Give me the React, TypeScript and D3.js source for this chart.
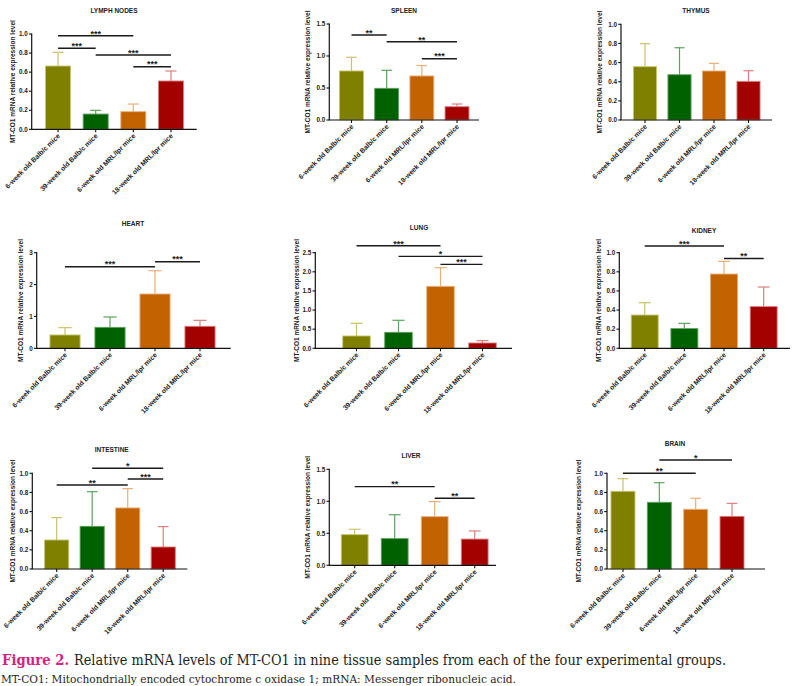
import React from "react";
import * as d3 from "d3";

// ---------- DATA ----------
const groups = [
  "6-week old Balb/c mice",
  "39-week old Balb/c mice",
  "6-week old MRL/lpr mice",
  "18-week old MRL/lpr mice",
];
const tissues = ["LYMPH NODES", "SPLEEN", "THYMUS", "HEART", "LUNG", "KIDNEY", "INTESTINE", "LIVER", "BRAIN"];
const yLabel = "MT-CO1 mRNA relative expression level";

const lymphMean = [0.664, 0.16, 0.185, 0.507];
const lymphSD = [0.144, 0.039, 0.08, 0.105];
const spleenMean = [0.766, 0.495, 0.688, 0.208];
const spleenSD = [0.214, 0.281, 0.162, 0.042];
const thymusMean = [0.557, 0.473, 0.512, 0.404];
const thymusSD = [0.24, 0.282, 0.08, 0.111];
const heartMean = [0.418, 0.658, 1.704, 0.69];
const heartSD = [0.23, 0.325, 0.731, 0.188];
const lungMean = [0.322, 0.418, 1.62, 0.139];
const lungSD = [0.331, 0.314, 0.488, 0.061];
const kidneyMean = [0.348, 0.206, 0.777, 0.436];
const kidneySD = [0.129, 0.055, 0.132, 0.205];
const intestineMean = [0.303, 0.446, 0.638, 0.23];
const intestineSD = [0.234, 0.362, 0.202, 0.213];
const liverMean = [0.479, 0.417, 0.76, 0.41];
const liverSD = [0.084, 0.373, 0.235, 0.126];
const brainMean = [0.812, 0.697, 0.624, 0.55];
const brainSD = [0.132, 0.205, 0.115, 0.136];

const yMaxes = [1.0, 1.5, 1.0, 3, 2.5, 1.0, 1.0, 1.5, 1.0];
const yTickSteps = [0.2, 0.5, 0.2, 1, 0.5, 0.2, 0.2, 0.5, 0.2];

// significance brackets: [from group, to group, label, level (data units)]
const lymphSig: [number, number, string, number][] = [
  [0, 2, "***", 0.982], [0, 1, "***", 0.85], [1, 3, "***", 0.78], [2, 3, "***", 0.657],
];
const spleenSig: [number, number, string, number][] = [
  [0, 1, "**", 1.328], [1, 3, "**", 1.223], [2, 3, "***", 0.958],
];
const thymusSig: [number, number, string, number][] = [];
const heartSig: [number, number, string, number][] = [
  [0, 2, "***", 2.561], [2, 3, "***", 2.718],
];
const lungSig: [number, number, string, number][] = [
  [0, 2, "***", 2.683], [1, 3, "*", 2.404], [2, 3, "***", 2.195],
];
const kidneySig: [number, number, string, number][] = [
  [0, 2, "***", 1.07], [2, 3, "**", 0.94],
];
const intestineSig: [number, number, string, number][] = [
  [1, 3, "*", 1.052], [2, 3, "***", 0.94], [0, 2, "**", 0.878],
];
const liverSig: [number, number, string, number][] = [
  [0, 2, "**", 1.229], [2, 3, "**", 1.047],
];
const brainSig: [number, number, string, number][] = [
  [0, 2, "**", 1.0], [1, 3, "*", 1.139],
];

const means = [lymphMean, spleenMean, thymusMean, heartMean, lungMean, kidneyMean, intestineMean, liverMean, brainMean];
const sds = [lymphSD, spleenSD, thymusSD, heartSD, lungSD, kidneySD, intestineSD, liverSD, brainSD];
const sigs = [lymphSig, spleenSig, thymusSig, heartSig, lungSig, kidneySig, intestineSig, liverSig, brainSig];

const captionTitle = "Figure 2.";
const captionText = "Relative mRNA levels of MT-CO1 in nine tissue samples from each of the four experimental groups.";
const captionNote = "MT-CO1: Mitochondrially encoded cytochrome c oxidase 1; mRNA: Messenger ribonucleic acid.";

// ---------- STYLE / LAYOUT ----------
const barColors = ["#808000", "#006100", "#c26200", "#a30000"];
const errColors = ["#c5c46e", "#61a061", "#e9b07a", "#d88080"];
const FONT = "'Liberation Sans', Arial, Helvetica, sans-serif";
const SERIF = "'DejaVu Serif', serif";
const CAP_SX = 0.78; // horizontal condensing of the caption font

type Layout = {
  ax0: number; ax1: number; yTop: number; yZero: number; b0: number; b1: number; pad: number;
  tx: number; ty: number; ylab: number;
};
const layouts: Layout[] = [
  { ax0: 31.7, ax1: 196.7, yTop: 34, yZero: 129.3, b0: 39.2, b1: 189.8, pad: 0.336, tx: 114, ty: 13, ylab: 19 },
  { ax0: 329.3, ax1: 479, yTop: 24, yZero: 120, b0: 333.9, b1: 474.6, pad: 0.32, tx: 404, ty: 13, ylab: 22 },
  { ax0: 621, ax1: 772, yTop: 24.3, yZero: 120, b0: 627.75, b1: 765.75, pad: 0.33, tx: 696, ty: 12.5, ylab: 21 },
  { ax0: 36.7, ax1: 230.7, yTop: 252.7, yZero: 348.3, b0: 42.5, b1: 222.5, pad: 0.33, tx: 133, ty: 225.5, ylab: 16 },
  { ax0: 315.3, ax1: 512, yTop: 252.7, yZero: 348.3, b0: 335.5, b1: 503.5, pad: 0.345, tx: 419, ty: 230, ylab: 19 },
  { ax0: 619.3, ax1: 790, yTop: 252.7, yZero: 348.3, b0: 624.9, b1: 783.5, pad: 0.32, tx: 704, ty: 232.5, ylab: 20.5 },
  { ax0: 32.3, ax1: 187.3, yTop: 473.3, yZero: 569, b0: 38.9, b1: 181, pad: 0.32, tx: 111.7, ty: 452, ylab: 19.5 },
  { ax0: 329.3, ax1: 496, yTop: 469.3, yZero: 565.3, b0: 334.7, b1: 494.7, pad: 0.33, tx: 411, ty: 457.5, ylab: 21.5 },
  { ax0: 607, ax1: 765, yTop: 473.3, yZero: 569, b0: 604.8, b1: 750.2, pad: 0.34, tx: 675, ty: 445.5, ylab: 28 },
];

function Panel({ idx }: { idx: number }) {
  const L = layouts[idx];
  const yMax = yMaxes[idx];
  const step = yTickSteps[idx];
  const m = means[idx];
  const s = sds[idx];
  const y = d3.scaleLinear().domain([0, yMax]).range([L.yZero, L.yTop]);
  const x = d3
    .scaleBand<string>()
    .domain(groups)
    .range([L.b0, L.b1])
    .paddingInner(L.pad)
    .paddingOuter(L.pad / 2);
  const bw = x.bandwidth();
  const ticks = d3.range(0, yMax + 1e-9, step);
  const fmt = yMax >= 3 ? d3.format("d") : d3.format(".1f");
  const cx = (g: string) => (x(g) as number) + bw / 2;
  const midY = (L.yTop + L.yZero) / 2;

  return (
    <g>
      <text x={L.tx} y={L.ty} textAnchor="middle" fontFamily={FONT} fontWeight="bold" fontSize={6.5} fill="#222">
        {tissues[idx]}
      </text>
      {groups.map((g, i) => {
        const c = cx(g);
        const top = y(m[i] + s[i]);
        return (
          <g key={g}>
            <line x1={c} x2={c} y1={y(m[i])} y2={top} stroke={errColors[i]} strokeWidth={1.2} />
            <line x1={c - bw * 0.22} x2={c + bw * 0.22} y1={top} y2={top} stroke={errColors[i]} strokeWidth={1.2} />
            <rect
              x={x(g)}
              y={y(m[i])}
              width={bw}
              height={L.yZero - y(m[i])}
              fill={barColors[i]}
              stroke={errColors[i]}
              strokeWidth={0.9}
            />
          </g>
        );
      })}
      <line x1={L.ax0} x2={L.ax0} y1={L.yTop - 0.6} y2={L.yZero} stroke="#111" strokeWidth={1.2} />
      {ticks.map((t) => (
        <g key={t}>
          <line x1={L.ax0 - 2.8} x2={L.ax0} y1={y(t)} y2={y(t)} stroke="#111" strokeWidth={1.1} />
          <text
            x={L.ax0 - 4}
            y={y(t) + 2.2}
            textAnchor="end"
            fontFamily={FONT}
            fontWeight="bold"
            fontSize={6.3}
            fill="#222"
          >
            {fmt(t)}
          </text>
        </g>
      ))}
      <text
        transform={`translate(${L.ax0 - L.ylab + 2.2},${midY}) rotate(-90)`}
        textAnchor="middle"
        fontFamily={FONT}
        fontWeight="bold"
        fontSize={6.5}
        fill="#222"
      >
        {yLabel}
      </text>
      <line x1={L.ax0 - 0.6} x2={L.ax1} y1={L.yZero} y2={L.yZero} stroke="#111" strokeWidth={1.2} />
      {groups.map((g) => (
        <g key={g}>
          <line x1={cx(g)} x2={cx(g)} y1={L.yZero} y2={L.yZero + 3} stroke="#111" strokeWidth={1.1} />
          <text
            transform={`translate(${cx(g) + 2.5},${L.yZero + 7}) rotate(-45)`}
            textAnchor="end"
            fontFamily={FONT}
            fontWeight="bold"
            fontSize={6.8}
            fill="#222"
          >
            {g}
          </text>
        </g>
      ))}
      {sigs[idx].map(([a, b, lab, lev], k) => {
        const x1 = cx(groups[a]);
        const x2 = cx(groups[b]);
        const yy = y(lev);
        return (
          <g key={k}>
            <line x1={x1} x2={x2} y1={yy} y2={yy} stroke="#1a1a1a" strokeWidth={1.4} />
            <text
              x={(x1 + x2) / 2}
              y={yy + 0.8}
              textAnchor="middle"
              fontFamily={FONT}
              fontWeight="bold"
              fontSize={9}
              fill="#222"
            >
              {lab}
            </text>
          </g>
        );
      })}
    </g>
  );
}

export default function App() {
  return (
    <div style={{ position: "absolute", left: 0, top: 0 }}>
      <svg width={798} height={686} style={{ display: "block", background: "#fff" }}>
        <rect width={798} height={686} fill="#fff" />
        {tissues.map((t, i) => (
          <Panel key={t} idx={i} />
        ))}
        <g transform={`scale(${CAP_SX},1)`}>
          <text
            x={2 / CAP_SX}
            y={665}
            fontFamily={SERIF}
            fontSize={15}
            fontWeight="bold"
            fill="#d4237f"
            textLength={67 / CAP_SX}
            lengthAdjust="spacingAndGlyphs"
          >
            {captionTitle}
          </text>
          <text
            x={74 / CAP_SX}
            y={665}
            fontFamily={SERIF}
            fontSize={15}
            fill="#231f20"
            textLength={652 / CAP_SX}
            lengthAdjust="spacingAndGlyphs"
          >
            {captionText}
          </text>
        </g>
        <g transform="scale(0.88,1)">
          <text
            x={1 / 0.88}
            y={683.5}
            fontFamily={SERIF}
            fontSize={11}
            fill="#231f20"
            textLength={515 / 0.88}
            lengthAdjust="spacingAndGlyphs"
          >
            {captionNote}
          </text>
        </g>
      </svg>
    </div>
  );
}
